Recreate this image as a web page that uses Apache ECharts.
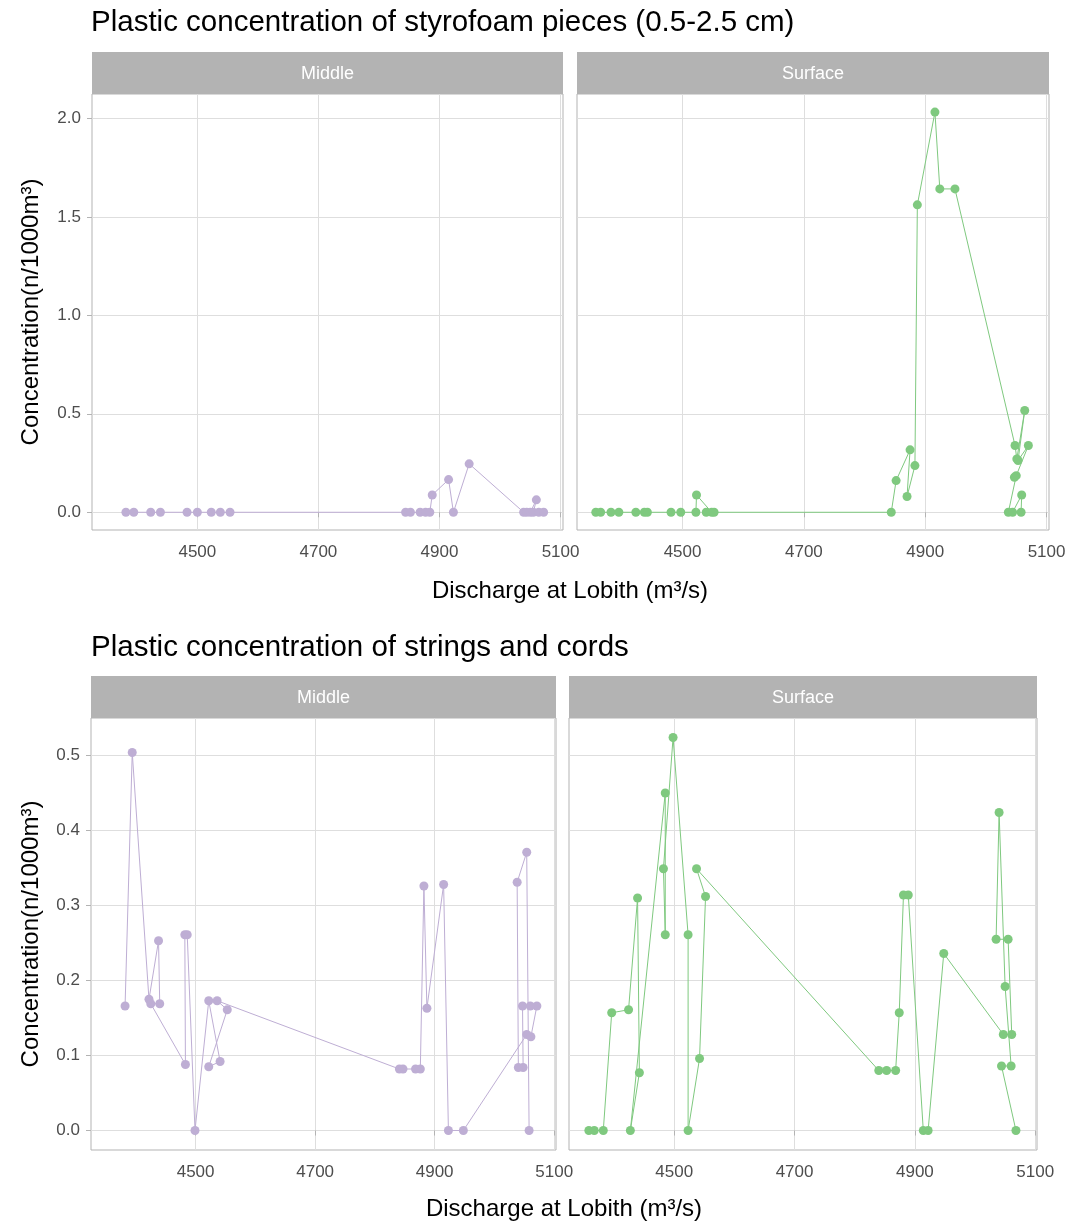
<!DOCTYPE html>
<html>
<head>
<meta charset="utf-8">
<script src="https://cdn.jsdelivr.net/npm/echarts@6/dist/echarts.min.js"></script>
<style>
  html, body { margin: 0; padding: 0; background: #ffffff; }
  #chart { width: 1071px; height: 1223px; }
</style>
</head>
<body>
<div id="chart"></div>
<script>
// facet labels and shared ticks
const facets = ["Middle", "Surface"];
const xTicks = [4500, 4700, 4900, 5100];
const styroTicks = [0, 0.5, 1, 1.5, 2];
const cordTicks = [0, 0.1, 0.2, 0.3, 0.4, 0.5];

// [discharge, concentration] in sampling order (geom_path)
const styroMiddle = [
  [4382, 0], [4395, 0], [4423, 0], [4439, 0], [4483, 0], [4500, 0], [4523, 0], [4538, 0], [4554, 0],
  [4844, 0], [4852, 0], [4868, 0], [4877, 0], [4884, 0], [4888, 0.088], [4915, 0.166], [4923, 0],
  [4949, 0.246], [5039, 0], [5044, 0], [5050, 0], [5060, 0.063], [5055, 0], [5064, 0], [5072, 0]
];
const styroSurface = [
  [4357, 0], [4365, 0], [4382, 0], [4395, 0], [4423, 0], [4437, 0], [4442, 0], [4481, 0], [4497, 0],
  [4522, 0], [4523, 0.088], [4548, 0], [4539, 0], [4552, 0], [4844, 0], [4852, 0.161], [4875, 0.317],
  [4870, 0.080], [4883, 0.237], [4887, 1.561], [4916, 2.032], [4924, 1.642], [4949, 1.642],
  [5048, 0.339], [5051, 0.271], [5064, 0.517], [5053, 0.263], [5070, 0.339], [5050, 0.186],
  [5047, 0.178], [5037, 0], [5044, 0], [5059, 0.088], [5058, 0]
];
const cordMiddle = [
  [4382, 0.166], [4394, 0.504], [4422, 0.175], [4438, 0.253], [4440, 0.169], [4425, 0.169],
  [4483, 0.088], [4482, 0.261], [4486, 0.261], [4499, 0], [4522, 0.173], [4541, 0.092],
  [4522, 0.085], [4553, 0.161], [4536, 0.173], [4841, 0.082], [4847, 0.082], [4868, 0.082],
  [4876, 0.082], [4882, 0.326], [4887, 0.163], [4915, 0.328], [4923, 0], [4948, 0],
  [5054, 0.128], [5061, 0.125], [5071, 0.166], [5060, 0.166], [5047, 0.166], [5048, 0.084],
  [5040, 0.084], [5038, 0.331], [5054, 0.371], [5058, 0]
];
const cordSurface = [
  [4358, 0], [4367, 0], [4382, 0], [4396, 0.157], [4424, 0.161], [4439, 0.310], [4442, 0.077],
  [4427, 0], [4485, 0.450], [4485, 0.261], [4482, 0.349], [4498, 0.524], [4523, 0.261], [4523, 0],
  [4542, 0.096], [4552, 0.312], [4537, 0.349], [4840, 0.080], [4853, 0.080], [4868, 0.080],
  [4874, 0.157], [4881, 0.314], [4889, 0.314], [4914, 0], [4922, 0], [4948, 0.236],
  [5047, 0.128], [5061, 0.128], [5055, 0.255], [5035, 0.255], [5040, 0.424], [5050, 0.192],
  [5060, 0.086], [5044, 0.086], [5068, 0]
];

const colors = { Middle: "#BEAED4", Surface: "#7FC97F" };
const tickFont = "'Liberation Sans Narrow', 'Liberation Sans', sans-serif";
const mainFont = "'Liberation Sans', Arial, sans-serif";

// panel boxes: [left, top, width, height]
const panels = [
  { box: [92, 94, 471, 436], x: [4326, 5104], y: [-0.09, 2.124], ticks: styroTicks, data: styroMiddle, facet: 0, yLab: true },
  { box: [577, 94, 472, 436], x: [4326, 5104], y: [-0.09, 2.124], ticks: styroTicks, data: styroSurface, facet: 1, yLab: false },
  { box: [91, 718, 465, 432], x: [4325, 5103], y: [-0.026, 0.55], ticks: cordTicks, data: cordMiddle, facet: 0, yLab: true },
  { box: [569, 718, 468, 432], x: [4325, 5103], y: [-0.026, 0.55], ticks: cordTicks, data: cordSurface, facet: 1, yLab: false }
];

const grid = [], xAxis = [], yAxis = [], series = [], graphic = [];

panels.forEach(function (p, i) {
  const facet = facets[p.facet];
  grid.push({
    left: p.box[0], top: p.box[1], width: p.box[2], height: p.box[3],
    show: true, borderColor: "#b3b3b3", borderWidth: 1, backgroundColor: "#ffffff"
  });
  xAxis.push({
    type: "value", gridIndex: i, min: p.x[0], max: p.x[1],
    axisLine: { show: false },
    axisTick: { show: true, customValues: xTicks, length: 5, lineStyle: { color: "#b3b3b3" } },
    axisLabel: {
      customValues: xTicks, color: "#4d4d4d", fontSize: 17, fontFamily: tickFont, margin: 14,
      formatter: function (v) { return String(v); }
    },
    splitLine: { show: true, lineStyle: { color: "#dedede", width: 1 } }
  });
  yAxis.push({
    type: "value", gridIndex: i, min: p.y[0], max: p.y[1],
    axisLine: { show: false },
    axisTick: { show: p.yLab, customValues: p.ticks, length: 5, lineStyle: { color: "#b3b3b3" } },
    axisLabel: {
      show: p.yLab, customValues: p.ticks, color: "#4d4d4d", fontSize: 17, fontFamily: tickFont, margin: 11,
      formatter: function (v) { return v.toFixed(1); }
    },
    splitLine: { show: true, lineStyle: { color: "#dedede", width: 1 } }
  });
  series.push({
    type: "line", name: facet, xAxisIndex: i, yAxisIndex: i,
    data: p.data,
    symbol: "circle", symbolSize: 9, showSymbol: true,
    lineStyle: { color: colors[facet], width: 1 },
    itemStyle: { color: colors[facet] },
    silent: true
  });
  // facet strip
  graphic.push({
    type: "rect", shape: { x: p.box[0], y: p.box[1] - 42, width: p.box[2], height: 42 },
    style: { fill: "#b3b3b3" }
  });
  graphic.push({
    type: "text", x: p.box[0] + p.box[2] / 2, y: p.box[1] - 20,
    style: { text: facet, fill: "#ffffff", font: "18px " + tickFont, textAlign: "center", textVerticalAlign: "middle" }
  });
});

// titles and axis titles
const titles = [
  { text: "Plastic concentration of styrofoam pieces (0.5-2.5 cm)", y: 23 },
  { text: "Plastic concentration of strings and cords", y: 648 }
];
titles.forEach(function (t) {
  graphic.push({
    type: "text", x: 91, y: t.y,
    style: { text: t.text, fill: "#000000", font: "29.5px " + mainFont, textAlign: "left", textVerticalAlign: "middle" }
  });
});
[[312, 591, 570], [934, 1209, 564]].forEach(function (a) {
  graphic.push({
    type: "text", x: 31, y: a[0], rotation: Math.PI / 2,
    style: { text: "Concentration(n/1000m³)", fill: "#000000", font: "24px " + mainFont, textAlign: "center", textVerticalAlign: "middle" }
  });
  graphic.push({
    type: "text", x: a[2], y: a[1],
    style: { text: "Discharge at Lobith (m³/s)", fill: "#000000", font: "24px " + mainFont, textAlign: "center", textVerticalAlign: "middle" }
  });
});

const chart = echarts.init(document.getElementById("chart"));
chart.setOption({
  animation: false,
  backgroundColor: "#ffffff",
  grid: grid,
  xAxis: xAxis,
  yAxis: yAxis,
  series: series,
  graphic: graphic
});
</script>
</body>
</html>
